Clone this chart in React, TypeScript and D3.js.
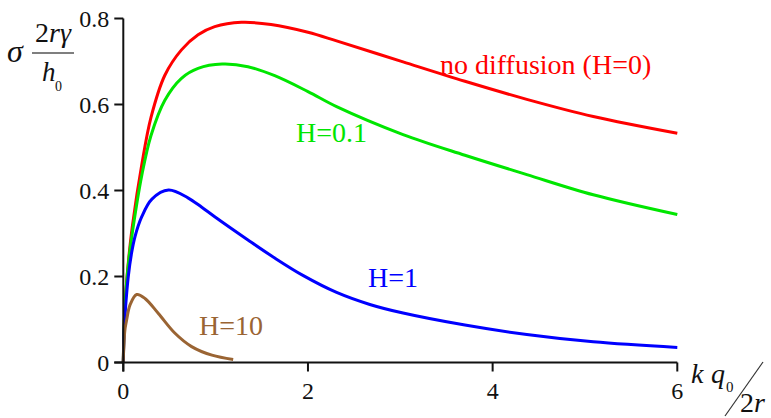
import React from "react";
import * as d3 from "d3";

// Growth rate curves for different diffusion parameters H
const redX = [0, 0.01, 0.03, 0.06, 0.1, 0.2, 0.3, 0.45, 0.63, 0.81, 0.99, 1.28, 1.6, 2.0, 2.31, 3.03, 3.7, 4.37, 5.09, 6];
const redY = [0, 0.09, 0.17, 0.245, 0.32, 0.46, 0.57, 0.668, 0.727, 0.762, 0.781, 0.791, 0.786, 0.768, 0.748, 0.699, 0.654, 0.612, 0.572, 0.533];

const greenX = [0, 0.01, 0.03, 0.06, 0.1, 0.2, 0.3, 0.45, 0.63, 0.81, 1.07, 1.35, 1.64, 2.0, 2.31, 3.03, 3.7, 4.37, 5.09, 6];
const greenY = [0, 0.09, 0.17, 0.24, 0.305, 0.435, 0.528, 0.61, 0.661, 0.684, 0.694, 0.688, 0.667, 0.63, 0.595, 0.53, 0.482, 0.437, 0.39, 0.344];

const blueX = [0, 0.01, 0.025, 0.054, 0.09, 0.127, 0.2, 0.31, 0.49, 0.7, 0.85, 0.99, 1.35, 1.64, 1.95, 2.31, 2.67, 3.03, 3.7, 4.37, 5.09, 6];
const blueY = [0, 0.08, 0.13, 0.2, 0.255, 0.293, 0.339, 0.38, 0.401, 0.383, 0.361, 0.339, 0.285, 0.243, 0.202, 0.163, 0.135, 0.115, 0.087, 0.065, 0.048, 0.035];

const brownX = [0, 0.008, 0.02, 0.037, 0.073, 0.145, 0.235, 0.38, 0.56, 0.74, 0.96, 1.19];
const brownY = [0, 0.05, 0.08, 0.1, 0.134, 0.158, 0.149, 0.114, 0.068, 0.037, 0.017, 0.007];

const xTicks = [0, 2, 4, 6];
const yTicks = [0, 0.2, 0.4, 0.6, 0.8];
const yTickLabels = ["0", "0.2", "0.4", "0.6", "0.8"];

const seriesNames = ["no diffusion (H=0)", "H=0.1", "H=1", "H=10"];
const seriesColors = ["#ff0000", "#00e600", "#0000ff", "#9a6433"];

const FONT = '"Liberation Serif", "Tinos", "Times New Roman", "DejaVu Serif", serif';
const txt = { fontFamily: FONT };

export default function App() {
  const x = d3.scaleLinear().domain([0, 6]).range([123.3, 677.3]);
  const y = d3.scaleLinear().domain([0, 0.8]).range([362.5, 18.5]);

  const line = d3
    .line<[number, number]>()
    .x((d) => x(d[0]))
    .y((d) => y(d[1]))
    .curve(d3.curveCatmullRom.alpha(0.5));

  const series = [
    { xs: redX, ys: redY },
    { xs: greenX, ys: greenY },
    { xs: blueX, ys: blueY },
    { xs: brownX, ys: brownY },
  ];

  // label anchors (data coordinates)
  const labelPos: [number, number][] = [
    [3.43, 0.67],
    [1.87, 0.513],
    [2.65, 0.176],
    [0.82, 0.064],
  ];

  const tick = 9;

  return (
    <svg
      width={771}
      height={418}
      style={{ position: "absolute", left: 0, top: 0, background: "#fff" }}
    >
      {/* curves */}
      {series.map((s, i) => (
        <path
          key={i}
          d={line(s.xs.map((v, j) => [v, s.ys[j]] as [number, number])) || ""}
          fill="none"
          stroke={seriesColors[i]}
          strokeWidth={3}
          strokeLinejoin="round"
        />
      ))}

      {/* axes */}
      <g stroke="#111" strokeWidth={2} fill="none">
        <line x1={x(0)} x2={x(0)} y1={y(0.8)} y2={y(0) + tick} />
        <line x1={x(0) - tick} x2={x(6)} y1={y(0)} y2={y(0)} />
        {yTicks.map((t) => (
          <line key={"yt" + t} x1={x(0) - tick} x2={x(0)} y1={y(t)} y2={y(t)} />
        ))}
        {xTicks.map((t) => (
          <line key={"xt" + t} x1={x(t)} x2={x(t)} y1={y(0)} y2={y(0) + tick} />
        ))}
      </g>

      {/* tick labels */}
      {yTicks.map((t, i) => (
        <text key={"yl" + t} x={x(0) - 14} y={y(t) + 8} textAnchor="end" fontSize={24} fill="#111" style={txt}>
          {yTickLabels[i]}
        </text>
      ))}
      {xTicks.map((t) => (
        <text key={"xl" + t} x={x(t)} y={399} textAnchor="middle" fontSize={24} fill="#111" style={txt}>
          {t}
        </text>
      ))}

      {/* series labels */}
      {seriesNames.map((n, i) => (
        <text
          key={n}
          x={x(labelPos[i][0])}
          y={y(labelPos[i][1])}
          fontSize={28}
          fill={seriesColors[i]}
          style={txt}
        >
          {n}
        </text>
      ))}

      {/* y-axis title: sigma * 2 r gamma / h0 */}
      <text x={7} y={62} fontSize={32} fontStyle="italic" fill="#111" style={txt}>σ</text>
      <text x={53} y={42} fontSize={28} textAnchor="middle" fill="#111" style={txt}>
        2<tspan fontStyle="italic">rγ</tspan>
      </text>
      <line x1={32} x2={74} y1={53} y2={53} stroke="#555" strokeWidth={1.5} />
      <text x={42} y={81} fontSize={27} fontStyle="italic" fill="#111" style={txt}>h</text>
      <text x={55} y={91} fontSize={14} fill="#111" style={txt}>0</text>

      {/* x-axis title: k q0 / 2r */}
      <text x={691} y={383} fontSize={28} fontStyle="italic" fill="#111" style={txt}>k</text>
      <text x={711} y={383} fontSize={28} fontStyle="italic" fill="#111" style={txt}>q</text>
      <text x={726} y={392} fontSize={15} fill="#111" style={txt}>0</text>
      <line x1={763} y1={362} x2={725} y2={416} stroke="#333" strokeWidth={1.2} />
      <text x={740} y={412} fontSize={28} fill="#111" style={txt}>
        2<tspan fontStyle="italic">r</tspan>
      </text>
    </svg>
  );
}
